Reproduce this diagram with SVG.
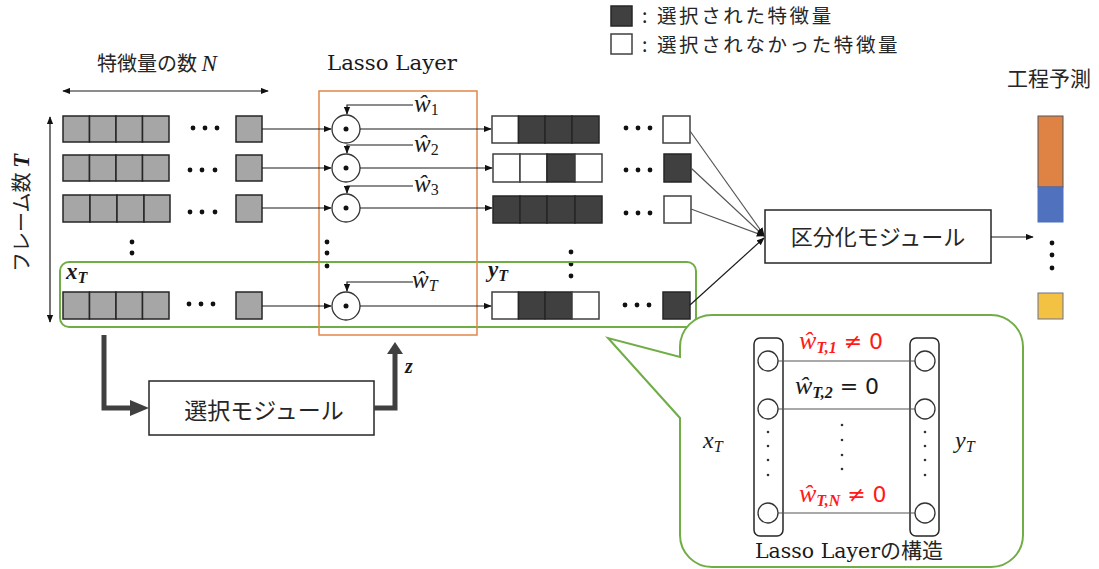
<svg xmlns="http://www.w3.org/2000/svg" width="1099" height="569" viewBox="0 0 1099 569">
<style>
.cg{fill:#A6A6A6;stroke:#262626;stroke-width:1.5}
.cd{fill:#404040;stroke:#262626;stroke-width:1.5}
.cw{fill:#fff;stroke:#404040;stroke-width:1.5}
.ln{stroke:#1a1a1a;stroke-width:1.2;fill:none}
.lg{stroke:#555;stroke-width:1.2;fill:none}
.jp{font-family:"Noto Sans CJK JP",sans-serif;fill:#262626}
.se{font-family:"DejaVu Serif","Liberation Serif",serif;fill:#1a1a1a}
.m{font-family:"Liberation Serif",serif;font-style:italic;fill:#1a1a1a}
.d{fill:#111}
.sd{fill:#333}
.circ{fill:#fff;stroke:#333;stroke-width:1.3}
.box{fill:#fff;stroke:#262626;stroke-width:1.5}
.leg{font-size:19.5px;letter-spacing:2.6px}
</style>
<defs>
<marker id="ah" viewBox="0 0 10 8" refX="9" refY="4" markerWidth="8" markerHeight="7" markerUnits="userSpaceOnUse" orient="auto-start-reverse">
<path d="M0,0 L10,4 L0,8 z" fill="#111"/>
</marker>
</defs>
<rect width="1099" height="569" fill="#fff"/>

<g id="legend">
<rect x="611" y="6" width="21" height="20" class="cd"/>
<rect x="611" y="34" width="21" height="20" class="cw"/>
<text x="642" y="23" class="jp leg">: 選択された特徴量</text>
<text x="642" y="52" class="jp leg">: 選択されなかった特徴量</text>
</g>

<g id="axis-labels">
<text x="97" y="71" class="jp" font-size="20">特徴量の数 <tspan class="m" font-size="23">N</tspan></text>
<text transform="translate(29,213) rotate(-90)" text-anchor="middle" class="jp" font-size="20">フレーム数 <tspan class="m" font-weight="bold" font-size="23">T</tspan></text>
<text x="392" y="70" text-anchor="middle" class="se" font-size="21" textLength="130" lengthAdjust="spacingAndGlyphs">Lasso Layer</text>
<text x="1049" y="86" text-anchor="middle" class="jp" font-size="21">工程予測</text>
</g>

<g id="input-grid">
<rect x="63" y="116" width="26.5" height="26" class="cg"/><rect x="89.5" y="116" width="26.5" height="26" class="cg"/><rect x="116" y="116" width="26.5" height="26" class="cg"/><rect x="142.5" y="116" width="26.5" height="26" class="cg"/>
<circle cx="193" cy="128" r="2.4" class="d"/><circle cx="205" cy="128" r="2.4" class="d"/><circle cx="217" cy="128" r="2.4" class="d"/>
<rect x="236" y="116" width="26" height="26" class="cg"/>
<rect x="63" y="155" width="26.5" height="26" class="cg"/><rect x="89.5" y="155" width="26.5" height="26" class="cg"/><rect x="116" y="155" width="26.5" height="26" class="cg"/><rect x="142.5" y="155" width="26.5" height="26" class="cg"/>
<circle cx="190" cy="170" r="2.4" class="d"/><circle cx="202" cy="170" r="2.4" class="d"/><circle cx="215" cy="170" r="2.4" class="d"/>
<rect x="236" y="155" width="26" height="26" class="cg"/>
<rect x="63" y="195" width="27" height="27" class="cg"/><rect x="90" y="195" width="27" height="27" class="cg"/><rect x="117" y="195" width="27" height="27" class="cg"/><rect x="144" y="195" width="26" height="27" class="cg"/>
<circle cx="190" cy="212" r="2.4" class="d"/><circle cx="202" cy="212" r="2.4" class="d"/><circle cx="215" cy="212" r="2.4" class="d"/>
<rect x="236" y="195" width="26" height="27" class="cg"/>
<circle cx="132" cy="242" r="2.4" class="d"/><circle cx="132" cy="253" r="2.4" class="d"/>
<rect x="63" y="292" width="26.5" height="27" class="cg"/><rect x="89.5" y="292" width="26.5" height="27" class="cg"/><rect x="116" y="292" width="26.5" height="27" class="cg"/><rect x="142.5" y="292" width="26.5" height="27" class="cg"/>
<circle cx="189" cy="304" r="2.4" class="d"/><circle cx="201" cy="304" r="2.4" class="d"/><circle cx="213" cy="304" r="2.4" class="d"/>
<rect x="236" y="292" width="26" height="27" class="cg"/>
<text x="66" y="279" class="m" font-weight="bold" font-size="23">x<tspan font-size="16" dy="4">T</tspan></text>
</g>

<g id="output-grid">
<rect x="492" y="116" width="26.5" height="27" class="cw"/><rect x="518.5" y="116" width="26.5" height="27" class="cd"/><rect x="545" y="116" width="27" height="27" class="cd"/><rect x="572" y="116" width="27" height="27" class="cd"/>
<circle cx="626" cy="128" r="2.4" class="d"/><circle cx="638" cy="128" r="2.4" class="d"/><circle cx="650" cy="128" r="2.4" class="d"/>
<rect x="663" y="116" width="27" height="27" class="cw"/>
<rect x="493" y="154" width="27" height="28" class="cw"/><rect x="520" y="154" width="27" height="28" class="cw"/><rect x="547" y="154" width="28" height="28" class="cd"/><rect x="575" y="154" width="27" height="28" class="cw"/>
<circle cx="626" cy="170" r="2.4" class="d"/><circle cx="638" cy="170" r="2.4" class="d"/><circle cx="650" cy="170" r="2.4" class="d"/>
<rect x="664" y="154" width="27" height="28" class="cd"/>
<rect x="493" y="196" width="27" height="27" class="cd"/><rect x="520" y="196" width="27" height="27" class="cd"/><rect x="547" y="196" width="28" height="27" class="cd"/><rect x="575" y="196" width="27" height="27" class="cd"/>
<circle cx="626" cy="213" r="2.4" class="d"/><circle cx="638" cy="213" r="2.4" class="d"/><circle cx="650" cy="213" r="2.4" class="d"/>
<rect x="664" y="196" width="27" height="27" class="cw"/>
<circle cx="571" cy="252" r="2.4" class="d"/><circle cx="571" cy="264" r="2.4" class="d"/><circle cx="571" cy="276" r="2.4" class="d"/>
<rect x="492" y="292" width="26.5" height="27" class="cw"/><rect x="518.5" y="292" width="26.5" height="27" class="cd"/><rect x="545" y="292" width="27" height="27" class="cd"/><rect x="572" y="292" width="27" height="27" class="cw"/>
<circle cx="625" cy="305" r="2.4" class="d"/><circle cx="637" cy="305" r="2.4" class="d"/><circle cx="649" cy="305" r="2.4" class="d"/>
<rect x="663" y="292" width="27" height="27" class="cd"/>
<text x="488" y="277" class="m" font-weight="bold" font-size="23">y<tspan font-size="16" dy="4">T</tspan></text>
</g>

<g id="frames">
<rect x="60" y="262" width="636" height="65" rx="9" fill="none" stroke="#70AD47" stroke-width="2"/>
<rect x="319" y="91" width="158" height="244" fill="none" stroke="#E2874A" stroke-width="1.5"/>
</g>

<g id="lasso-layer">
<circle cx="346" cy="129" r="14" class="circ"/><circle cx="346" cy="129" r="2.5" class="d"/>
<circle cx="346" cy="168" r="14" class="circ"/><circle cx="346" cy="168" r="2.5" class="d"/>
<circle cx="346" cy="208" r="14" class="circ"/><circle cx="346" cy="208" r="2.5" class="d"/>
<circle cx="346" cy="306" r="14" class="circ"/><circle cx="346" cy="306" r="2.5" class="d"/>
<circle cx="327" cy="242" r="2.4" class="d"/><circle cx="327" cy="253" r="2.4" class="d"/><circle cx="327" cy="266" r="2.4" class="d"/>
<text x="414" y="112" class="m" font-size="25">ŵ<tspan font-size="16" dy="3" font-style="normal">1</tspan></text>
<text x="414" y="152" class="m" font-size="25">ŵ<tspan font-size="16" dy="3" font-style="normal">2</tspan></text>
<text x="414" y="192" class="m" font-size="25">ŵ<tspan font-size="16" dy="3" font-style="normal">3</tspan></text>
<text x="412" y="288" class="m" font-size="25">ŵ<tspan font-size="16" dy="3">T</tspan></text>
</g>

<g id="partition-module">
<rect x="765" y="210" width="226" height="53" class="box"/>
<text x="878" y="245" text-anchor="middle" class="jp" font-size="22">区分化モジュール</text>
</g>

<g id="prediction">
<rect x="1038" y="116" width="25" height="71" fill="#DE8344" stroke="#555" stroke-width="1"/>
<rect x="1038" y="187" width="25" height="35" fill="#4F71BE" stroke="#4F71BE" stroke-width="1"/>
<circle cx="1052" cy="243" r="2.4" class="d"/><circle cx="1052" cy="255" r="2.4" class="d"/><circle cx="1052" cy="268" r="2.4" class="d"/>
<rect x="1038" y="293" width="25" height="26" fill="#F4C242" stroke="#6a7090" stroke-width="1"/>
</g>

<g id="selection-module">
<rect x="149" y="381" width="225" height="54" class="box"/>
<text x="264" y="419" text-anchor="middle" class="jp" font-size="23">選択モジュール</text>
<text x="405" y="373" class="m" font-weight="bold" font-size="20">z</text>
</g>

<g id="callout">
<path d="M712,315 H991 A32,32 0 0 1 1023,347 V535 A32,32 0 0 1 991,567 H712 A32,32 0 0 1 680,535 V418 L608,338 L680,357 V347 A32,32 0 0 1 712,315 Z" fill="#fff" stroke="#70AD47" stroke-width="2"/>
<rect x="754" y="338" width="29" height="198" rx="6" fill="none" stroke="#262626" stroke-width="1.5"/>
<rect x="910" y="338" width="29" height="198" rx="6" fill="none" stroke="#262626" stroke-width="1.5"/>
<line x1="778" y1="361" x2="915" y2="361" class="lg"/>
<line x1="778" y1="409" x2="915" y2="409" class="lg"/>
<line x1="778" y1="513" x2="915" y2="513" class="lg"/>
<circle cx="768" cy="361" r="10" class="circ"/><circle cx="768" cy="409" r="10" class="circ"/><circle cx="768" cy="513" r="10" class="circ"/>
<circle cx="925" cy="361" r="10" class="circ"/><circle cx="925" cy="409" r="10" class="circ"/><circle cx="925" cy="513" r="10" class="circ"/>
<circle cx="768" cy="432" r="1.3" class="sd"/><circle cx="768" cy="446" r="1.3" class="sd"/><circle cx="768" cy="460" r="1.3" class="sd"/><circle cx="768" cy="475" r="1.3" class="sd"/>
<circle cx="842" cy="425" r="1.3" class="sd"/><circle cx="842" cy="440" r="1.3" class="sd"/><circle cx="842" cy="455" r="1.3" class="sd"/><circle cx="842" cy="469" r="1.3" class="sd"/>
<circle cx="925" cy="432" r="1.3" class="sd"/><circle cx="925" cy="446" r="1.3" class="sd"/><circle cx="925" cy="460" r="1.3" class="sd"/><circle cx="925" cy="475" r="1.3" class="sd"/>
<text x="799" y="349" class="m" font-size="26" style="fill:#FF1A1A">ŵ<tspan font-size="16" dy="4" font-weight="bold">T,1</tspan><tspan dy="-4" font-style="normal" font-family="DejaVu Sans,sans-serif" font-size="22"> ≠ 0</tspan></text>
<text x="795" y="394" class="m" font-size="26">ŵ<tspan font-size="16" dy="4" font-weight="bold">T,2</tspan><tspan dy="-4" font-style="normal" font-family="DejaVu Sans,sans-serif" font-size="22"> = 0</tspan></text>
<text x="799" y="502" class="m" font-size="26" style="fill:#FF1A1A">ŵ<tspan font-size="16" dy="4" font-weight="bold">T,N</tspan><tspan dy="-4" font-style="normal" font-family="DejaVu Sans,sans-serif" font-size="22"> ≠ 0</tspan></text>
<text x="703" y="448" class="m" font-size="24">x<tspan font-size="16" dy="4">T</tspan></text>
<text x="955" y="448" class="m" font-size="24">y<tspan font-size="16" dy="4">T</tspan></text>
<text x="849" y="558" text-anchor="middle" font-size="21"><tspan class="se" textLength="125" lengthAdjust="spacingAndGlyphs">Lasso Layer</tspan><tspan class="jp">の構造</tspan></text>
</g>

<g id="connectors">
<line x1="63" y1="91" x2="268" y2="91" class="ln" marker-start="url(#ah)" marker-end="url(#ah)"/>
<line x1="50" y1="117" x2="50" y2="322" class="ln" marker-start="url(#ah)" marker-end="url(#ah)"/>
<line x1="262" y1="129" x2="331" y2="129" class="ln" marker-end="url(#ah)"/>
<line x1="262" y1="168" x2="331" y2="168" class="ln" marker-end="url(#ah)"/>
<line x1="262" y1="208" x2="331" y2="208" class="ln" marker-end="url(#ah)"/>
<line x1="262" y1="306" x2="331" y2="306" class="ln" marker-end="url(#ah)"/>
<line x1="360" y1="129" x2="491" y2="129" class="ln" marker-end="url(#ah)"/>
<line x1="360" y1="168" x2="492" y2="168" class="ln" marker-end="url(#ah)"/>
<line x1="360" y1="208" x2="492" y2="208" class="ln" marker-end="url(#ah)"/>
<line x1="360" y1="306" x2="491" y2="306" class="ln" marker-end="url(#ah)"/>
<polyline points="413,105 347,105 347,114" class="ln" marker-end="url(#ah)"/>
<polyline points="413,145 347,145 347,153" class="ln" marker-end="url(#ah)"/>
<polyline points="413,186 347,186 347,193" class="ln" marker-end="url(#ah)"/>
<polyline points="413,282 347,282 347,291" class="ln" marker-end="url(#ah)"/>
<line x1="690" y1="131" x2="764" y2="235" class="lg" marker-end="url(#ah)"/>
<line x1="691" y1="168" x2="764" y2="236" class="lg" marker-end="url(#ah)"/>
<line x1="691" y1="209" x2="764" y2="236" class="lg" marker-end="url(#ah)"/>
<line x1="690" y1="305" x2="764" y2="238" class="ln" marker-end="url(#ah)"/>
<line x1="991" y1="237" x2="1033" y2="237" class="ln" marker-end="url(#ah)"/>
<path d="M104,335 V408 H132" fill="none" stroke="#404040" stroke-width="5"/>
<polygon points="130,400 149,408 130,416" fill="#404040"/>
<path d="M374,408 H395 V352" fill="none" stroke="#404040" stroke-width="5"/>
<polygon points="387,354 395,342 403,354" fill="#404040"/>
</g>
</svg>
